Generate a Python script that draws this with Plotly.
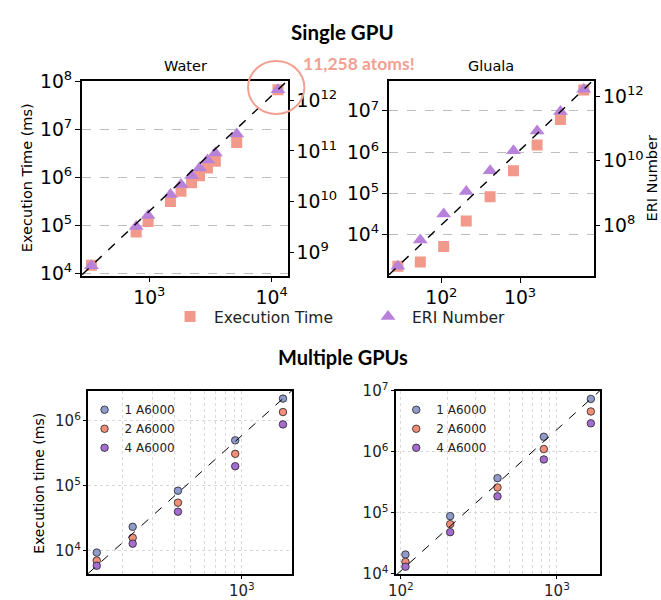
import numpy as np
import plotly.graph_objects as go

# ---------------- data ----------------
water_atoms = [336, 780, 976, 1487, 1815, 2213, 2570, 2985, 3462, 5176, 11258]
water_time = [1.49e4, 7.4e4, 1.22e5, 3.2e5, 5.2e5, 7.8e5, 1.1e6, 1.6e6, 2.2e6, 5.4e6, 6.8e7]
water_eri = [5.5e8, 3.25e9, 5.4e9, 1.39e10, 2.2e10, 3.3e10, 4.6e10, 6.6e10, 9.1e10, 2.15e11, 1.6e12]

gluala_atoms = [28, 54, 107, 207, 416, 824, 1648, 3258, 6457]
gluala_time = [1.73e3, 2.19e3, 5.2e3, 2.14e4, 8.3e4, 3.56e5, 1.5e6, 6.2e6, 3.2e7]
gluala_eri = [5.3e6, 3.5e7, 2.23e8, 1.11e9, 4.9e9, 2.04e10, 8.4e10, 3.42e11, 1.66e12]

multi_water_atoms = [141, 229, 422, 914, 1741]
multi_water_1 = [9.4e3, 2.34e4, 8.4e4, 5.0e5, 2.19e6]
multi_water_2 = [7.1e3, 1.59e4, 5.5e4, 3.1e5, 1.36e6]
multi_water_4 = [5.9e3, 1.29e4, 4.0e4, 2.0e5, 8.8e5]

multi_gluala_atoms = [107, 207, 416, 824, 1648]
multi_gluala_1 = [2.06e4, 8.8e4, 3.7e5, 1.77e6, 7.4e6]
multi_gluala_2 = [1.56e4, 6.5e4, 2.6e5, 1.11e6, 4.6e6]
multi_gluala_4 = [1.3e4, 4.8e4, 1.86e5, 7.5e5, 2.94e6]

gpu_labels = ["1 A6000", "2 A6000", "4 A6000"]

# ---------------- style ----------------
W, H = 661, 600
C_TIME = "#F1998A"
C_ERI = "#B982DA"
C_GPU = ["#8E9BCB", "#F08E7A", "#A66DD0"]
TICKFONT = "DejaVu Sans"
TITLEFONT = "Lato"


def pxx(x):
    return x / W


def pxy(y):
    return 1 - y / H


def ref_line(xs, ys, xrange_log):
    """Straight line (in log-log space) through first and last data point,
    spanning the whole x-range of the axis."""
    lx = np.log10([xs[0], xs[-1]])
    ly = np.log10([ys[0], ys[-1]])
    slope = (ly[1] - ly[0]) / (lx[1] - lx[0])
    xl = np.array(xrange_log)
    yl = ly[0] + slope * (xl - lx[0])
    return 10 ** xl, 10 ** yl


fig = go.Figure()

# ---- axis ranges (log10 units) ----
r_wx, r_wy, r_wy2 = [2.45, 4.13], [3.96, 8.01], [8.55, 12.37]
r_gx, r_gy, r_gy2 = [1.335, 3.941], [3.005, 7.724], [6.43, 12.478]
r_mwx, r_mwy = [2.098, 3.295], [3.645, 6.463]
r_mgx, r_mgy = [1.966, 3.276], [3.995, 7.005]

# ---- Single GPU: Water ----
fig.add_trace(go.Scatter(x=water_atoms, y=water_time, mode="markers", name="Execution Time",
                         marker=dict(symbol="square", size=11, color=C_TIME),
                         xaxis="x", yaxis="y", legend="legend"))
fig.add_trace(go.Scatter(x=water_atoms, y=water_eri, mode="markers", name="ERI Number",
                         marker=dict(symbol="triangle-up", size=13, color=C_ERI),
                         xaxis="x", yaxis="y2", legend="legend"))
lx, ly = ref_line(water_atoms, water_eri, r_wx)
fig.add_trace(go.Scatter(x=lx, y=ly, mode="lines", showlegend=False,
                         line=dict(color="black", dash="dash", width=1.4),
                         xaxis="x", yaxis="y2"))

# ---- Single GPU: Gluala ----
fig.add_trace(go.Scatter(x=gluala_atoms, y=gluala_time, mode="markers", showlegend=False,
                         marker=dict(symbol="square", size=11, color=C_TIME),
                         xaxis="x2", yaxis="y3"))
fig.add_trace(go.Scatter(x=gluala_atoms, y=gluala_eri, mode="markers", showlegend=False,
                         marker=dict(symbol="triangle-up", size=13, color=C_ERI),
                         xaxis="x2", yaxis="y4"))
lx, ly = ref_line(gluala_atoms, gluala_eri, r_gx)
fig.add_trace(go.Scatter(x=lx, y=ly, mode="lines", showlegend=False,
                         line=dict(color="black", dash="dash", width=1.4),
                         xaxis="x2", yaxis="y4"))

# ---- Multiple GPUs: Water ----
for lab, ys, c in zip(gpu_labels, [multi_water_1, multi_water_2, multi_water_4], C_GPU):
    fig.add_trace(go.Scatter(x=multi_water_atoms, y=ys, mode="markers", name=lab,
                             marker=dict(size=7.5, color=c, line=dict(color="#222", width=0.8)),
                             xaxis="x3", yaxis="y5", legend="legend2"))
lx, ly = ref_line([multi_water_atoms[0], multi_water_atoms[-1]],
                  [multi_water_4[0], multi_water_1[-1]], r_mwx)
fig.add_trace(go.Scatter(x=lx, y=ly, mode="lines", showlegend=False,
                         line=dict(color="black", dash="dash", width=1),
                         xaxis="x3", yaxis="y5"))

# ---- Multiple GPUs: Gluala ----
for lab, ys, c in zip(gpu_labels, [multi_gluala_1, multi_gluala_2, multi_gluala_4], C_GPU):
    fig.add_trace(go.Scatter(x=multi_gluala_atoms, y=ys, mode="markers", name=lab,
                             marker=dict(size=7.5, color=c, line=dict(color="#222", width=0.8)),
                             xaxis="x4", yaxis="y6", legend="legend3"))
lx, ly = ref_line([multi_gluala_atoms[0], multi_gluala_atoms[-1]],
                  [multi_gluala_4[0], multi_gluala_1[-1]], r_mgx)
fig.add_trace(go.Scatter(x=lx, y=ly, mode="lines", showlegend=False,
                         line=dict(color="black", dash="dash", width=1),
                         xaxis="x4", yaxis="y6"))


def ax_top(domain, rng, anchor, grid=False, side=None, overlaying=None, showline=True, dtick=1):
    d = dict(type="log", domain=domain, range=rng, anchor=anchor, dtick=dtick,
             exponentformat="power", ticks="outside", ticklen=5, tickwidth=1.3,
             tickcolor="black", showline=showline, linecolor="black", linewidth=1.8,
             mirror=showline, tickfont=dict(family=TICKFONT, size=15, color="black"),
             showgrid=grid, gridcolor="#BDBDBD", griddash="dash", gridwidth=1,
             zeroline=False)
    if side:
        d["side"] = side
    if overlaying:
        d["overlaying"] = overlaying
    return d


def ax_bot(domain, rng, anchor, minor=False):
    d = dict(type="log", domain=domain, range=rng, anchor=anchor, dtick=1,
             exponentformat="power", ticks="outside", ticklen=3, tickwidth=1,
             tickcolor="black", showline=True, linecolor="black", linewidth=1.5,
             mirror=True, tickfont=dict(family=TICKFONT, size=12, color="#222"),
             showgrid=True, gridcolor="#D9D9D9", griddash="dot", gridwidth=1,
             zeroline=False)
    if minor:
        d["minor"] = dict(dtick="D1", showgrid=True, gridcolor="#D9D9D9",
                          griddash="dot", gridwidth=1, ticks="")
    return d


top_y = [pxy(273), pxy(71)]
bot_y = [pxy(583.3), pxy(392.7)]

fig.update_layout(
    width=W, height=H, margin=dict(l=0, r=0, t=0, b=0),
    plot_bgcolor="white", paper_bgcolor="white",
    xaxis=ax_top([pxx(75), pxx(283)], r_wx, "y"),
    yaxis=ax_top(top_y, r_wy, "x", grid=True),
    yaxis2=ax_top(top_y, r_wy2, "x", side="right", overlaying="y", showline=False),
    xaxis2=ax_top([pxx(385.7), pxx(593.3)], r_gx, "y3"),
    yaxis3=ax_top([pxy(273.3), pxy(70.7)], r_gy, "x2", grid=True),
    yaxis4=ax_top([pxy(273.3), pxy(70.7)], r_gy2, "x2", side="right", overlaying="y3",
                  showline=False, dtick=2),
    xaxis3=ax_bot([pxx(81), pxx(287.7)], r_mwx, "y5", minor=True),
    yaxis5=ax_bot(bot_y, r_mwy, "x3"),
    xaxis4=ax_bot([pxx(392.3), pxx(599.3)], r_mgx, "y6", minor=True),
    yaxis6=ax_bot(bot_y, r_mgy, "x4"),
    legend=dict(orientation="h", x=pxx(160), y=pxy(316), xanchor="left", yanchor="middle",
                bgcolor="rgba(0,0,0,0)", font=dict(family=TICKFONT, size=15.5, color="#222"),
                entrywidth=145, itemwidth=38),
    legend2=dict(x=pxx(77.5), y=pxy(397.5), xanchor="left", yanchor="top",
                 bgcolor="rgba(0,0,0,0)", font=dict(family=TICKFONT, size=12, color="#222"),
                 tracegroupgap=0),
    legend3=dict(x=pxx(393), y=pxy(397.5), xanchor="left", yanchor="top",
                 bgcolor="rgba(0,0,0,0)", font=dict(family=TICKFONT, size=12, color="#222"),
                 tracegroupgap=0),
)

# highlight circle around the largest water system
fig.add_shape(type="circle", xref="paper", yref="paper",
              x0=pxx(243), x1=pxx(300), y0=pxy(105), y1=pxy(50),
              line=dict(color="#F2A092", width=2))

ann = [
    dict(text="<b>Single GPU</b>", x=pxx(339), y=pxy(20), font=dict(family=TITLEFONT, size=20.5)),
    dict(text="<b>Multiple GPUs</b>", x=pxx(339), y=pxy(358), font=dict(family=TITLEFONT, size=20)),
    dict(text="<b>11,258 atoms!</b>", x=pxx(355), y=pxy(53),
         font=dict(family=TITLEFONT, size=17.5, color="#F2A092")),
    dict(text="Water", x=pxx(179.5), y=pxy(55), font=dict(family=TICKFONT, size=14.5)),
    dict(text="Gluala", x=pxx(489), y=pxy(55), font=dict(family=TICKFONT, size=14.5)),
    dict(text="Execution Time (ms)", x=pxx(20), y=pxy(171), textangle=-90,
         font=dict(family=TICKFONT, size=14.5)),
    dict(text="ERI Number", x=pxx(652), y=pxy(172), textangle=-90,
         font=dict(family=TICKFONT, size=14.5)),
    dict(text="Execution time (ms)", x=pxx(32), y=pxy(489), textangle=-90,
         font=dict(family=TICKFONT, size=14)),
]
for a in ann:
    a.setdefault("font", {})
    a["font"].setdefault("color", "black")
    fig.add_annotation(xref="paper", yref="paper", showarrow=False,
                       xanchor="center", yanchor="middle", **a)

fig.write_html("out.html")
